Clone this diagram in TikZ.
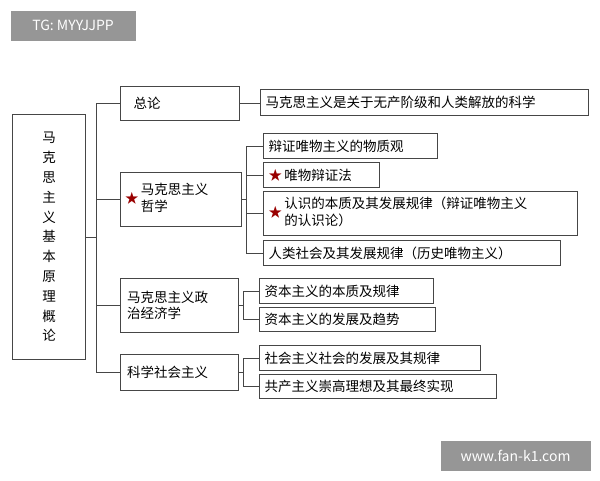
\documentclass[tikz,border=0pt]{standalone}
\usepackage{fontspec}
\setmainfont{Noto Sans CJK SC}
\usepackage{tikz}
\tikzset{every picture/.style={line width=1pt}}
\tikzset{
  box/.style={draw={rgb,255:red,70;green,70;blue,70}, anchor=north west, inner sep=0pt, align=left, font=\fontsize{13.5}{16.5}\selectfont},
  tag/.style={fill={rgb,255:red,150;green,150;blue,150}, text=white, anchor=north west, inner sep=0pt, font=\fontsize{14}{16}\selectfont},
  link/.style={draw={rgb,255:red,70;green,70;blue,70}}
}
\newcommand{\rstar}{\textcolor{red!60!black}{★}\,}
\begin{document}
\begin{tikzpicture}[x=1pt,y=-1pt]
  \useasboundingbox (0,0) rectangle (600,480);
  % tags
  \node[tag, minimum width=125, minimum height=30] (tg) at (10,10) {TG: MYYJJPP};
  \node[tag, minimum width=150, minimum height=30] (site) at (440,440) {www.fan-k1.com};
  % root
  \node[box, minimum width=73, minimum height=245, align=center, font=\fontsize{13.5}{19.8}\selectfont] (root) at (12,114) {马\\克\\思\\主\\义\\基\\本\\原\\理\\概\\论};
  % level 1
  \node[box, minimum width=119, minimum height=34, text width=105] (zl) at (120,86) {\hspace*{6pt}总论};
  \node[box, minimum width=121, minimum height=54, text width=112] (zx) at (120,172) {\rstar{}\begin{tabular}[c]{@{}l@{}}马克思主义\\哲学\end{tabular}};
  \node[box, minimum width=118, minimum height=54, text width=105] (jj) at (120,278) {马克思主义政\\治经济学};
  \node[box, minimum width=118, minimum height=36, text width=105] (sh) at (120,354) {科学社会主义};
  % level 2
  \node[box, minimum width=328, minimum height=26, text width=318] (zl1) at (260,89) {马克思主义是关于无产阶级和人类解放的科学};
  \node[box, minimum width=174, minimum height=25, text width=164] (zx1) at (263,133) {辩证唯物主义的物质观};
  \node[box, minimum width=116, minimum height=25, text width=106] (zx2) at (263,162) {\rstar{}唯物辩证法};
  \node[box, minimum width=314, minimum height=44, text width=304] (zx3) at (263,191) {\rstar{}\begin{tabular}[c]{@{}l@{}}认识的本质及其发展规律（辩证唯物主义\\的认识论）\end{tabular}};
  \node[box, minimum width=297, minimum height=25, text width=287] (zx4) at (263,240) {人类社会及其发展规律（历史唯物主义）};
  \node[box, minimum width=174, minimum height=25, text width=164] (jj1) at (259,278) {资本主义的本质及规律};
  \node[box, minimum width=176, minimum height=24, text width=166] (jj2) at (259,307) {资本主义的发展及趋势};
  \node[box, minimum width=221, minimum height=25, text width=211] (sh1) at (259,345) {社会主义社会的发展及其规律};
  \node[box, minimum width=237, minimum height=24, text width=227] (sh2) at (259,374) {共产主义崇高理想及其最终实现};
  % connectors
  \draw[link] (root.east) -- (96,237);
  \draw[link] (96,103) -- (96,372);
  \foreach \n in {zl,zx,jj,sh} \draw[link] (96,0 |- \n.west) -- (\n.west);
  \draw[link] (zl.east) -- (zl1.west |- zl.east);
  \draw[link] (zx.east) -- (246,0 |- zx.east);
  \draw[link] (246,0 |- zx1.west) -- (246,0 |- zx4.west);
  \foreach \n in {zx1,zx2,zx3,zx4} \draw[link] (246,0 |- \n.west) -- (\n.west);
  \draw[link] (jj.east) -- (243,0 |- jj.east);
  \draw[link] (243,0 |- jj1.west) -- (243,0 |- jj2.west);
  \foreach \n in {jj1,jj2} \draw[link] (243,0 |- \n.west) -- (\n.west);
  \draw[link] (sh.east) -- (243,0 |- sh.east);
  \draw[link] (243,0 |- sh1.west) -- (243,0 |- sh2.west);
  \foreach \n in {sh1,sh2} \draw[link] (243,0 |- \n.west) -- (\n.west);
\end{tikzpicture}
\end{document}
